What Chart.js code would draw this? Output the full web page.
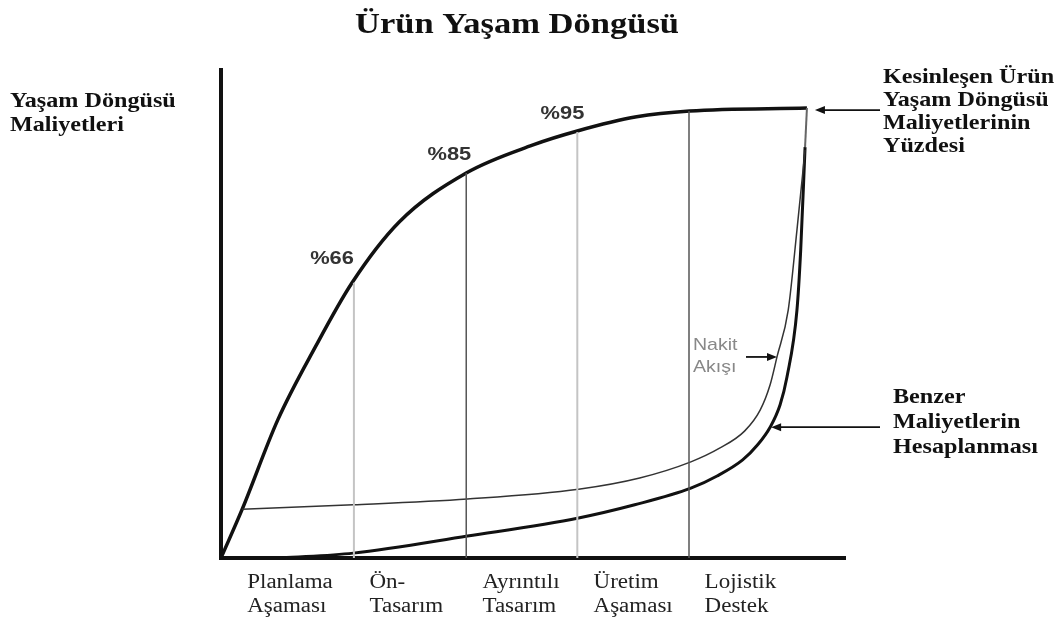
<!DOCTYPE html>
<html>
<head>
<meta charset="utf-8">
<script src="https://cdn.jsdelivr.net/npm/chart.js@4"></script>
<style>
  body { margin: 0; background: #fff; }
</style>
</head>
<body>
<canvas id="dongu" width="1064" height="623"></canvas>
<script>
// egriler, 0-100 arasi oransal birimlerle (x: zaman, y: maliyet)
const kesinX = [0, 3.4, 9.1, 15.1, 21.0, 28.6, 39.3, 49.9, 57.1, 66.6, 75.1, 93.9];
const kesinY = [0, 10.0, 28.3, 43.2, 56.4, 68.9, 78.9, 84.6, 87.5, 90.4, 91.6, 92.2];

const benzerX = [9.8, 21.2, 39.5, 57.3, 66.3, 75.3, 79.5, 83.6, 86.0, 88.0, 89.6, 90.7, 92.3, 92.9, 93.6];
const benzerY = [0, 1.0, 4.5, 8.2, 10.9, 14.3, 16.8, 20.1, 23.2, 26.8, 31.4, 37.1, 50.8, 63.1, 84.2];

const nakitX = [3.4, 21.2, 39.5, 57.3, 67.1, 75.3, 79.9, 83.9, 86.4, 88.0, 89.1, 90.9, 92.3, 93.6];
const nakitY = [10.0, 10.9, 12.1, 14.1, 16.4, 19.7, 22.5, 26.0, 30.3, 35.5, 41.2, 50.8, 67.2, 83.6];

// asama cizgileri
const asamaX = [21.3, 39.3, 57.1, 75.0];
const asamaUst = [56.4, 78.9, 87.3, 91.6];
const yuzdeler = ['%66', '%85', '%95'];

// x ekseni altindaki etiketler
const asamalar = [['Planlama', 'Aşaması'], ['Ön-', 'Tasarım'], ['Ayrıntılı', 'Tasarım'], ['Üretim', 'Aşaması'], ['Lojistik', 'Destek']];
const asamaEtiketX = [4.2, 23.8, 41.9, 59.7, 77.5];

const SX = 1.15; // resimdeki yazilar yatayda biraz genis

function pts(xs, ys) {
    return xs.map((v, i) => ({x: v, y: ys[i]}));
}

function yaz(ctx, str, x, y, font, color, align) {
    ctx.save();
    ctx.font = font;
    ctx.fillStyle = color;
    ctx.textBaseline = 'alphabetic';
    ctx.textAlign = 'left';
    const w = ctx.measureText(str).width * SX;
    let left = x;
    if (align === 'center') left = x - w / 2;
    if (align === 'right') left = x - w;
    ctx.translate(left, y);
    ctx.scale(SX, 1);
    ctx.fillText(str, 0, 0);
    ctx.restore();
}

function ok(ctx, x1, y1, x2, y2, color) {
    // ucu (x2,y2) olan ok
    const a = Math.atan2(y2 - y1, x2 - x1);
    ctx.save();
    ctx.strokeStyle = color;
    ctx.fillStyle = color;
    ctx.lineWidth = 1.8;
    ctx.beginPath();
    ctx.moveTo(x1, y1);
    ctx.lineTo(x2 - 6 * Math.cos(a), y2 - 6 * Math.sin(a));
    ctx.stroke();
    ctx.beginPath();
    ctx.moveTo(x2, y2);
    ctx.lineTo(x2 - 10 * Math.cos(a) + 4 * Math.sin(a), y2 - 10 * Math.sin(a) - 4 * Math.cos(a));
    ctx.lineTo(x2 - 10 * Math.cos(a) - 4 * Math.sin(a), y2 - 10 * Math.sin(a) + 4 * Math.cos(a));
    ctx.closePath();
    ctx.fill();
    ctx.restore();
}

const notlar = {
    id: 'notlar',
    afterDraw(chart) {
        const ctx = chart.ctx;
        const x = chart.scales.x, y = chart.scales.y;
        const serifB = 'bold 21px "Liberation Serif"';

        yaz(ctx, 'Ürün Yaşam Döngüsü', 517, 33, 'bold 30px "Liberation Serif"', '#111', 'center');

        yaz(ctx, 'Yaşam Döngüsü', 10, 107, serifB, '#111');
        yaz(ctx, 'Maliyetleri', 10, 131, serifB, '#111');

        ['Kesinleşen Ürün', 'Yaşam Döngüsü', 'Maliyetlerinin', 'Yüzdesi'].forEach((s, i) => {
            yaz(ctx, s, 883, 83 + i * 23, serifB, '#111');
        });
        ['Benzer', 'Maliyetlerin', 'Hesaplanması'].forEach((s, i) => {
            yaz(ctx, s, 893, 403 + i * 25, serifB, '#111');
        });

        // asama etiketleri
        asamalar.forEach((lines, i) => {
            const px = x.getPixelForValue(asamaEtiketX[i]);
            yaz(ctx, lines[0], px, 588, '20px "Liberation Serif"', '#222');
            yaz(ctx, lines[1], px, 612, '20px "Liberation Serif"', '#222');
        });

        // yuzde etiketleri
        const ofs = [[0, -19], [5, -13], [7, -13]];
        yuzdeler.forEach((s, i) => {
            const px = x.getPixelForValue(asamaX[i]) + ofs[i][0];
            const py = y.getPixelForValue(asamaUst[i]) + ofs[i][1];
            yaz(ctx, s, px, py, 'bold 19px "Liberation Sans"', '#333', 'right');
        });

        // nakit akisi yazisi
        yaz(ctx, 'Nakit', 693, 350, '17px "Liberation Sans"', '#888');
        yaz(ctx, 'Akışı', 693, 372, '17px "Liberation Sans"', '#888');

        // oklar
        const kx = x.getPixelForValue(kesinX[kesinX.length - 1]);
        const ky = y.getPixelForValue(kesinY[kesinY.length - 1]);
        ok(ctx, 880, ky + 2, kx + 8, ky + 2, '#111');

        const nx = x.getPixelForValue(nakitX[10]), ny = y.getPixelForValue(nakitY[10]);
        ok(ctx, 746, ny, nx, ny, '#111');

        const bx = x.getPixelForValue(benzerX[9]), by = y.getPixelForValue(benzerY[9]);
        ok(ctx, 880, by, bx + 1, by, '#111');
    }
};

const cizgiler = asamaX.map((v, i) => ({
    data: [{x: v, y: 0}, {x: v, y: asamaUst[i]}],
    borderColor: i % 2 === 0 ? '#c4c4c4' : '#555',
    borderWidth: i % 2 === 0 ? 2 : 1.5,
    tension: 0
}));

new Chart(document.getElementById('dongu'), {
    type: 'line',
    data: {
        datasets: [
            ...cizgiler,
            {
                label: 'Nakit Akışı',
                data: pts(nakitX, nakitY),
                borderColor: '#333',
                borderWidth: 1.5,
                cubicInterpolationMode: 'monotone'
            },
            {
                label: 'Benzer Maliyetlerin Hesaplanması',
                data: pts(benzerX, benzerY),
                borderColor: '#111',
                borderWidth: 3,
                cubicInterpolationMode: 'monotone'
            },
            {
                label: 'köşe',
                data: [{x: kesinX[kesinX.length - 1], y: kesinY[kesinY.length - 1]}, {x: benzerX[benzerX.length - 1], y: benzerY[benzerY.length - 1]}],
                borderColor: '#666',
                borderWidth: 2,
                tension: 0
            },
            {
                label: 'Kesinleşen Maliyetler',
                data: pts(kesinX, kesinY),
                borderColor: '#111',
                borderWidth: 3.5,
                cubicInterpolationMode: 'monotone'
            }
        ]
    },
    options: {
        responsive: false,
        devicePixelRatio: 1,
        animation: false,
        clip: false,
        layout: { padding: { left: 221, right: 219, top: 70, bottom: 65 } },
        elements: { point: { radius: 0 }, line: { fill: false } },
        plugins: {
            legend: { display: false },
            tooltip: { enabled: false }
        },
        scales: {
            x: {
                type: 'linear', min: 0, max: 100,
                ticks: { display: false },
                grid: { display: false, drawTicks: false },
                border: { color: '#111', width: 4 }
            },
            y: {
                min: 0, max: 100,
                ticks: { display: false },
                grid: { display: false, drawTicks: false },
                border: { color: '#111', width: 4 }
            }
        }
    },
    plugins: [notlar]
});
</script>
</body>
</html>
